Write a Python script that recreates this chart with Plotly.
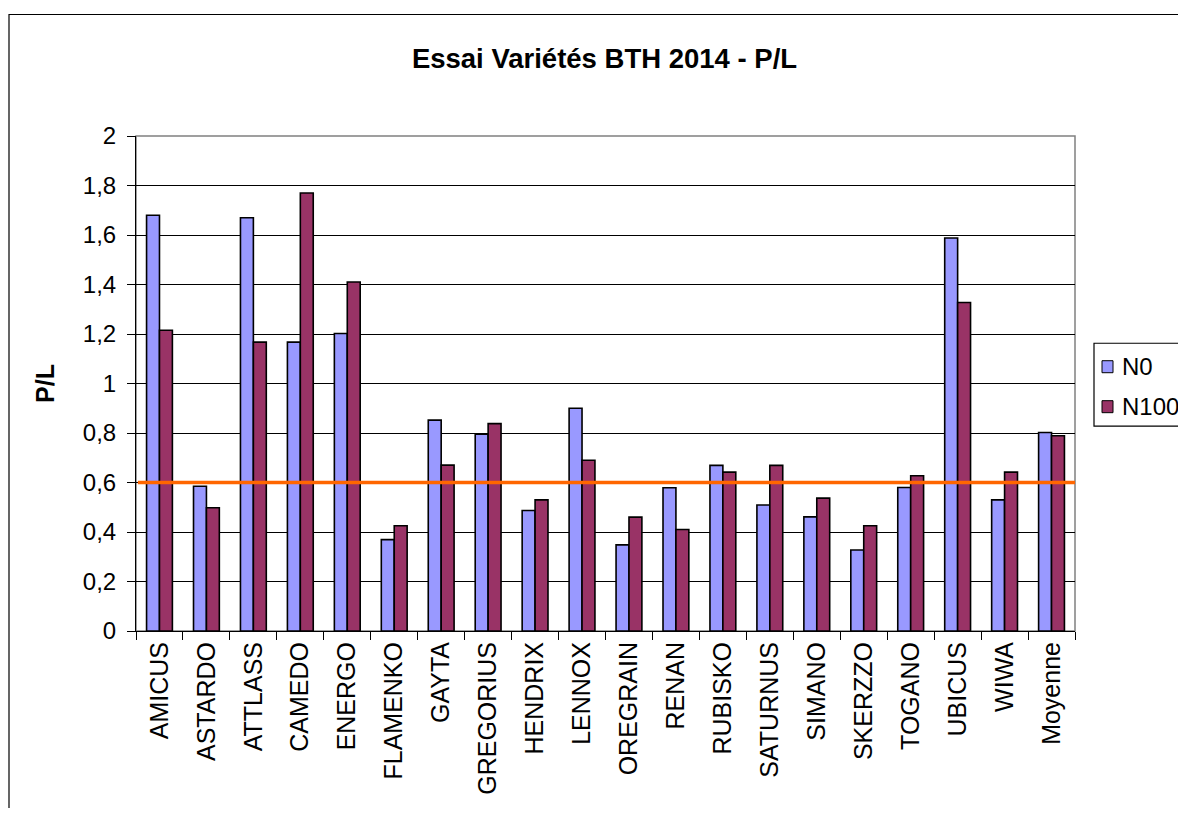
import plotly.graph_objects as go

# Data
varietes = ["AMICUS", "ASTARDO", "ATTLASS", "CAMEDO", "ENERGO", "FLAMENKO", "GAYTA",
            "GREGORIUS", "HENDRIX", "LENNOX", "OREGRAIN", "RENAN", "RUBISKO", "SATURNUS",
            "SIMANO", "SKERZZO", "TOGANO", "UBICUS", "WIWA", "Moyenne"]
n0 = [1.68, 0.585, 1.67, 1.167, 1.202, 0.369, 0.852, 0.795, 0.487, 0.90,
      0.348, 0.579, 0.669, 0.509, 0.461, 0.327, 0.580, 1.588, 0.530, 0.802]
n100 = [1.215, 0.498, 1.167, 1.77, 1.41, 0.425, 0.670, 0.838, 0.530, 0.690,
        0.460, 0.410, 0.642, 0.669, 0.537, 0.425, 0.627, 1.327, 0.642, 0.789]
seuil = 0.6
y_ticks = [0, 0.2, 0.4, 0.6, 0.8, 1, 1.2, 1.4, 1.6, 1.8, 2]

FONT = "Liberation Sans, Arial, sans-serif"
C_N0 = "#9999FF"
C_N100 = "#993366"

# the page body adds an 8px margin; keep the figure inside the window
OFF = 8
W, H = 1186 - 2 * OFF, 816 - 2 * OFF
L, R, T, B = 136 - OFF, 1075 - OFF, 135.6 - OFF, 631 - OFF
pw, ph = R - L, B - T


def px(x):
    # window pixel -> paper x
    return (x - OFF - L) / pw


def py(y):
    # window pixel -> paper y
    return (B - (y - OFF)) / ph


fig = go.Figure()

fig.add_trace(go.Bar(
    x=varietes, y=n0, name="N0",
    marker=dict(color=C_N0, line=dict(color="black", width=1.6)),
))
fig.add_trace(go.Bar(
    x=varietes, y=n100, name="N100",
    marker=dict(color=C_N100, line=dict(color="black", width=1.6)),
))

# orange reference line
fig.add_shape(type="line", xref="paper", yref="y", x0=0.002, x1=1, y0=seuil, y1=seuil,
              line=dict(color="#FF6600", width=3.5), layer="above")

# outer chart border (cut off at right/bottom like the reference)
fig.add_shape(type="rect", xref="paper", yref="paper",
              x0=px(9), x1=px(1200), y0=py(830), y1=py(14),
              line=dict(color="black", width=1.2), layer="below")

# grey plot-area border
fig.add_shape(type="rect", xref="paper", yref="paper", x0=0, x1=1, y0=0, y1=1,
              line=dict(color="#808080", width=1.5), layer="below")

# hand-drawn legend (the box runs off the right edge in the reference)
fig.add_shape(type="rect", xref="paper", yref="paper",
              x0=px(1094), x1=px(1200), y0=py(426), y1=py(343),
              line=dict(color="black", width=1.2), fillcolor="white", layer="above")
for name, col, yc in [("N0", C_N0, 366.5), ("N100", C_N100, 406.5)]:
    fig.add_shape(type="rect", xref="paper", yref="paper",
                  x0=px(1102), x1=px(1113), y0=py(yc + 6), y1=py(yc - 6),
                  line=dict(color="black", width=1), fillcolor=col, layer="above")
    fig.add_annotation(text=name, xref="paper", yref="paper", x=px(1120), y=py(yc),
                       xanchor="left", yanchor="middle", showarrow=False,
                       font=dict(size=24, family=FONT, color="black"))

fig.update_layout(
    width=W, height=H,
    margin=dict(l=L, r=W - R, t=T, b=H - B, pad=0, autoexpand=False),
    paper_bgcolor="white", plot_bgcolor="white",
    separators=", ",
    font=dict(family=FONT, size=24, color="black"),
    title=dict(text="<b>Essai Variétés BTH 2014 - P/L</b>", x=(604.5 - OFF) / W, xanchor="center",
               y=1 - (58 - OFF) / H, yanchor="middle", font=dict(size=27.5, family=FONT)),
    barmode="group", bargap=0.45, bargroupgap=0,
    showlegend=False,
    xaxis=dict(
        type="category", tickangle=-90, tickfont=dict(size=25), automargin=False,
        ticks="outside", ticklen=8, tickcolor="black", tickson="boundaries",
        showline=True, linecolor="black", linewidth=1, mirror=False,
        showgrid=False,
    ),
    yaxis=dict(
        range=[0, 2], tickvals=y_ticks, tickfont=dict(size=24), automargin=False,
        ticks="outside", ticklen=8, tickcolor="black", ticklabelstandoff=6,
        showline=True, linecolor="black", linewidth=1,
        showgrid=True, gridcolor="black", gridwidth=1, zeroline=False,
        title=dict(text="<b>P/L</b>", font=dict(size=25), standoff=21),
    ),
)

fig.write_html("out.html")
